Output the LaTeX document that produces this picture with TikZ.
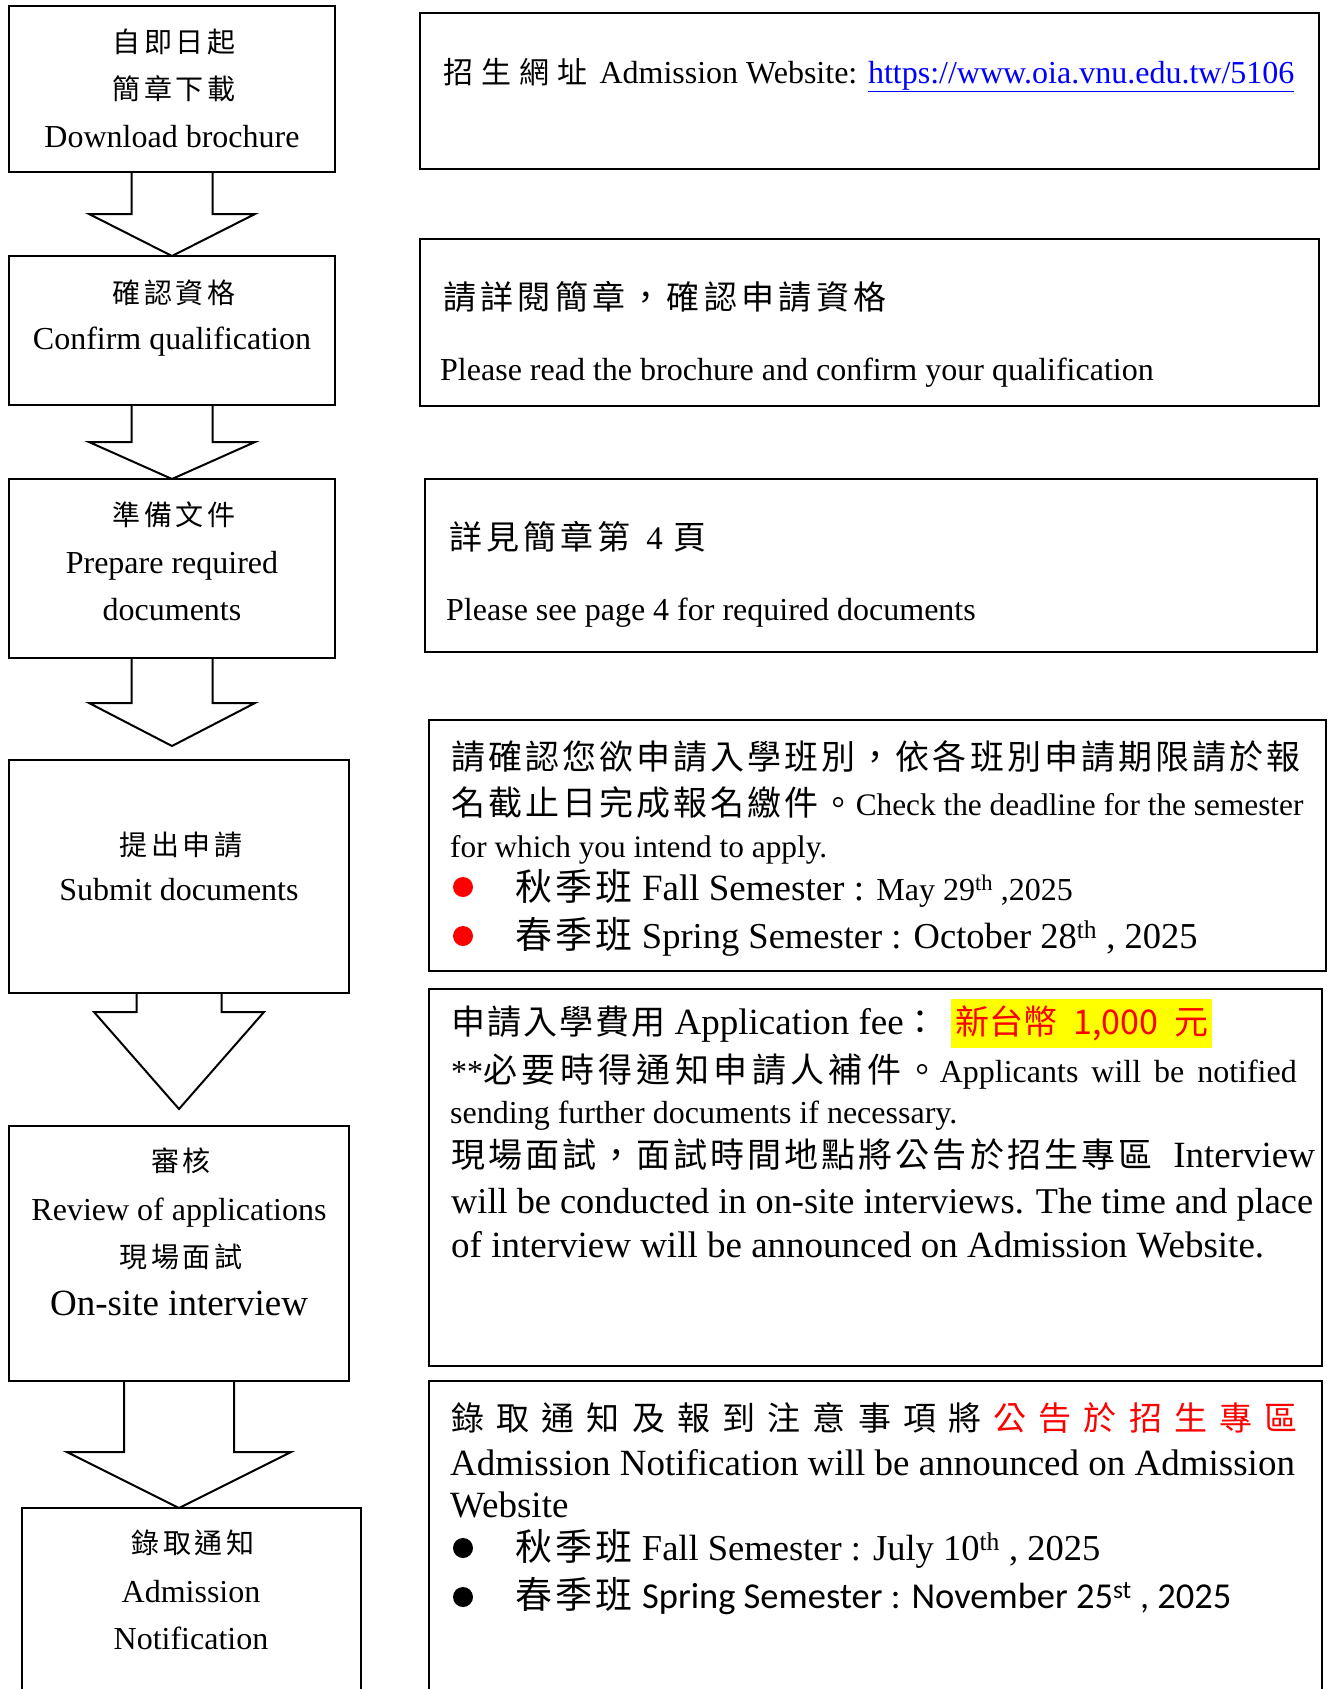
\documentclass[tikz,border=0pt]{standalone}
\usepackage{fontspec}
\setmainfont{Liberation Serif}
\newfontfamily\cjk{Noto Sans CJK TC}
\newfontfamily\calfont{Carlito}
\usetikzlibrary{calc}
\definecolor{linkblue}{RGB}{0,0,255}
\definecolor{hlyellow}{RGB}{255,255,0}
\definecolor{txtred}{RGB}{255,0,0}
\newcommand\fsz[1]{\fontsize{#1}{#1}\selectfont}
\newcommand\cj[2]{{\cjk\addfontfeature{LetterSpace=#1}#2}}
\newcommand\blockarrow[5]{%
  \draw[blk] ($(#1.south)+(-#3,0)$) -- ($(#1.south)+(-#3,#4)$) -- ($(#1.south)+(-#5,#4)$) -- (#2) -- ($(#1.south)+(#5,#4)$) -- ($(#1.south)+(#3,#4)$) -- ($(#1.south)+(#3,0)$);}
\begin{document}
\begin{tikzpicture}[x=1pt,y=-1pt,
  box/.style={draw,line width=2pt,rectangle,anchor=north west,inner sep=0pt,outer sep=0pt},
  blk/.style={draw,line width=2pt,line join=miter},
  ctxt/.style={anchor=base,inner sep=0pt},
  ltxt/.style={anchor=base west,inner sep=0pt},
  dot/.style={circle,fill=#1,inner sep=0pt,minimum size=20pt}]
\useasboundingbox (0,0) rectangle (1331,1689);
\clip (0,0) rectangle (1331,1689);

% left boxes
\node[box,minimum width=326,minimum height=166] (b1) at (9,6) {};
\node[box,minimum width=326,minimum height=149] (b2) at (9,256) {};
\node[box,minimum width=326,minimum height=179] (b3) at (9,479) {};
\node[box,minimum width=340,minimum height=233] (b4) at (9,760) {};
\node[box,minimum width=340,minimum height=255] (b5) at (9,1126) {};
\node[box,minimum width=339,minimum height=220] (b6) at (22,1508) {};

% right boxes
\node[box,minimum width=899,minimum height=156] (r1) at (420,13) {};
\node[box,minimum width=899,minimum height=167] (r2) at (420,239) {};
\node[box,minimum width=892,minimum height=173] (r3) at (425,479) {};
\node[box,minimum width=897,minimum height=251] (r4) at (429,720) {};
\node[box,minimum width=893,minimum height=377] (r5) at (429,989) {};
\node[box,minimum width=893,minimum height=330] (r6) at (429,1381) {};

% block arrows
\blockarrow{b1}{b2.north}{40.5}{42}{83}
\blockarrow{b2}{b3.north}{40.5}{37}{83}
\coordinate (tip3) at ($(b3.south)+(0,88)$);
\blockarrow{b3}{tip3}{40.5}{45}{83}
\coordinate (tip4) at ($(b4.south)+(0,116)$);
\blockarrow{b4}{tip4}{42.5}{19}{85}
\coordinate (tip5) at (b5.south |- b6.north);
\blockarrow{b5}{tip5}{55}{71}{112}

% left texts
\node[ctxt,font=\fsz{28}] (t1a) at (174,52) {\cj{14}{自即日起}};
\node[ctxt,font=\fsz{28}] (t1b) at (174,99) {\cj{14}{簡章下載}};
\node[ctxt,font=\fsz{32}] (t1c) at (172,147) {Download brochure};
\node[ctxt,font=\fsz{28}] (t2a) at (174,303) {\cj{14}{確認資格}};
\node[ctxt,font=\fsz{32}] (t2b) at (172,349) {Confirm qualification};
\node[ctxt,font=\fsz{28}] (t3a) at (174,525) {\cj{14}{準備文件}};
\node[ctxt,font=\fsz{32}] (t3b) at (172,573) {Prepare required};
\node[ctxt,font=\fsz{32}] (t3c) at (172,620) {documents};
\node[ctxt,font=\fsz{28}] (t4a) at (181,855) {\cj{14}{提出申請}};
\node[ctxt,font=\fsz{32}] (t4b) at (179,900) {Submit documents};
\node[ctxt,font=\fsz{28}] (t5a) at (181,1171) {\cj{14}{審核}};
\node[ctxt,font=\fsz{32}] (t5b) at (179,1220) {Review of applications};
\node[ctxt,font=\fsz{28}] (t5c) at (181,1267) {\cj{14}{現場面試}};
\node[ctxt,font=\fsz{37}] (t5d) at (179,1315) {On-site interview};
\node[ctxt,font=\fsz{28}] (t6a) at (193,1553) {\cj{14}{錄取通知}};
\node[ctxt,font=\fsz{32}] (t6b) at (191,1602) {Admission};
\node[ctxt,font=\fsz{32}] (t6c) at (191,1649) {Notification};

% R1
\node[ltxt,font=\fsz{32}] (u1) at (443,83) {{\fsz{30}\cj{27}{招生網址}}\hspace{12pt}Admission Website: \textcolor{linkblue}{\underline{https://www.oia.vnu.edu.tw/5106}}};
% R2
\node[ltxt,font=\fsz{33}] (u2a) at (443,309) {\cj{13}{請詳閱簡章，確認申請資格}};
\node[ltxt,font=\fsz{32}] (u2b) at (440,380) {Please read the brochure and confirm your qualification};
% R3
\node[ltxt,font=\fsz{33}] (u3a) at (449,549) {\cj{12}{詳見簡章第}\hspace{8pt} 4 \hspace{2pt}\cj{0}{頁}};
\node[ltxt,font=\fsz{32}] (u3b) at (446,620) {Please see page 4 for required documents};
% R4
\node[ltxt,font=\fsz{34}] (u4a) at (451,769) {\cj{9}{請確認您欲申請入學班別，依各班別申請期限請於報}};
\node[ltxt,font=\fsz{34}] (u4b) at (451,815) {\cj{9}{名截止日完成報名繳件。}{\fsz{31.3}Check the deadline for the semester}};
\node[ltxt,font=\fsz{31.3}] (u4c) at (450,857) {for which you intend to apply.};
\node[dot=txtred] (d4a) at (463,887) {};
\node[ltxt,font=\fsz{37}] (u4d) at (515,900) {\cj{9}{秋季班} Fall Semester : {\fsz{32}May 29\textsuperscript{th} ,2025}};
\node[dot=txtred] (d4b) at (463,936) {};
\node[ltxt,font=\fsz{36.5}] (u4e) at (515,948) {{\fsz{37}\cj{9}{春季班}} Spring Semester : October 28\textsuperscript{th} , 2025};
% R5
\node[anchor=north west,fill=hlyellow,inner sep=0pt,minimum width=261,minimum height=49] (hl) at (951,999) {};
\node[ltxt,font=\fsz{34}] (u5a) at (451,1034) {\cj{6}{申請入學費用}{\fsz{37} Application fee}\cj{0}{：}};
\node[ltxt,font=\fsz{34},text=txtred] (u5b) at (955,1034) {\makebox[253pt][s]{\cjk 新台幣 1,000 元}};
\node[ltxt,font=\fsz{32}] (u5c) at (451,1082) {**{\fsz{34}\cj{13}{必要時得通知申請人補件。}}\makebox[357pt][s]{Applicants will be notified}};
\node[ltxt,font=\fsz{32}] (u5d) at (450,1123) {sending further documents if necessary.};
\node[ltxt,font=\fsz{34}] (u5e) at (451,1167) {\cj{9}{現場面試，面試時間地點將公告於招生專區}\hspace{21pt}{\fsz{37}Interview}};
\node[ltxt,font=\fsz{36.3}] (u5f) at (451,1213) {will be conducted in on-site interviews. The time and place};
\node[ltxt,font=\fsz{37}] (u5g) at (451,1257) {of interview will be announced on Admission Website.};
% R6
\node[ltxt,font=\fsz{33}] (u6a) at (451,1430) {\cj{37}{錄取通知及報到注意事項將}\hspace{12pt}\textcolor{txtred}{\cj{37}{公告於招生專區}}};
\node[ltxt,font=\fsz{37}] (u6b) at (450,1475) {Admission Notification will be announced on Admission};
\node[ltxt,font=\fsz{37}] (u6c) at (450,1517) {Website};
\node[dot=black] (d6a) at (463,1548) {};
\node[ltxt,font=\fsz{36.5}] (u6d) at (515,1560) {{\fsz{37}\cj{9}{秋季班}} Fall Semester : July 10\textsuperscript{th} , 2025};
\node[dot=black] (d6b) at (463,1597) {};
\node[ltxt,font=\fsz{37}] (u6e) at (515,1608) {\cj{9}{春季班} {\calfont\fsz{36.5}Spring Semester : November 25\textsuperscript{st} , 2025}};
\end{tikzpicture}
\end{document}
